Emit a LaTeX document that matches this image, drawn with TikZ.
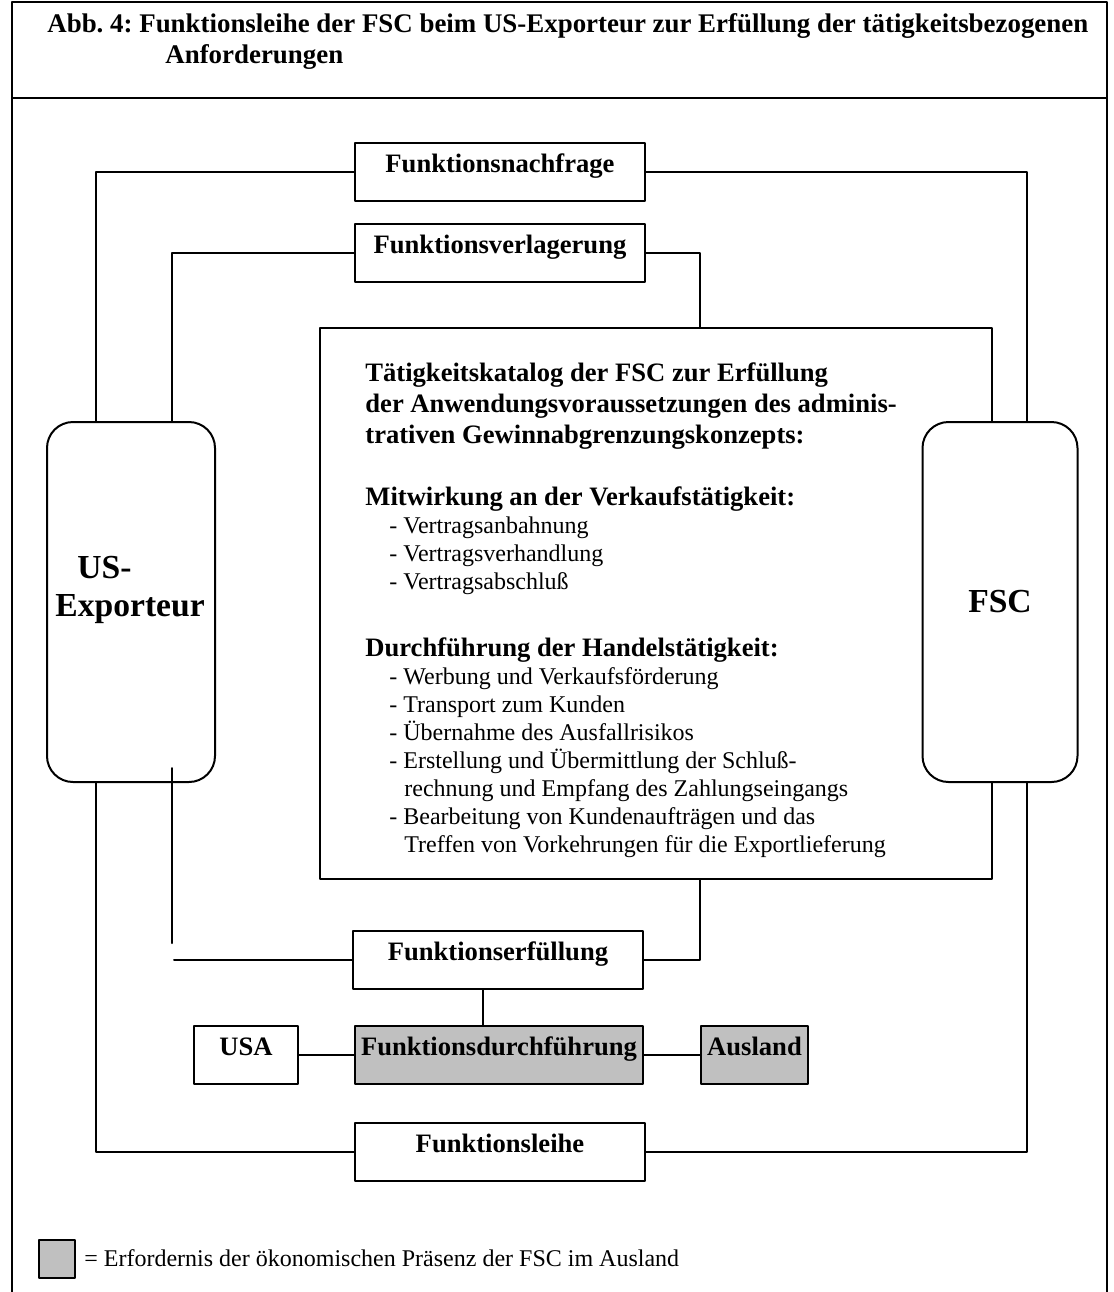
\documentclass[tikz,border=0pt]{standalone}
\usepackage{fontspec}
\setmainfont{Liberation Serif}
\usetikzlibrary{calc}
\definecolor{grau}{RGB}{192,192,192}

\begin{document}
\frenchspacing
\begin{tikzpicture}[x=0.5pt,y=-0.5pt, line join=round, line cap=round,
	fbox/.style={draw, line width=1pt, fill=white, inner xsep=0pt, inner ysep=0pt, text height=14.5pt, text depth=14.5pt, minimum width=145pt, font=\fontsize{13.3}{15}\selectfont\bfseries},
	rbox/.style={draw, line width=1pt, fill=white, rounded corners=13pt, minimum height=180pt, font=\fontsize{16.8}{19}\selectfont\bfseries},
	hd/.style={font=\fontsize{13.3}{15}\selectfont\bfseries, anchor=base west, inner sep=0pt},
	it/.style={font=\fontsize{12}{14}\selectfont, anchor=base west, inner sep=0pt},
	big/.style={font=\fontsize{16.8}{19}\selectfont\bfseries, anchor=base west, inner sep=0pt},
	ln/.style={line width=1pt}]
	\useasboundingbox (0,0) rectangle (1114,1292);
	% Rahmen und Titel
	\draw[line width=0.7pt] (12,1292)--(12,2)--(1107,2)--(1107,1292);
	\draw[line width=0.7pt] (12,98)--(1107,98);
	\node[hd, font=\fontsize{13.45}{15}\selectfont\bfseries] (titel1) at (47,32) {Abb. 4: Funktionsleihe der FSC beim US-Exporteur zur Erfüllung der tätigkeitsbezogenen};
	\node[hd, font=\fontsize{13.45}{15}\selectfont\bfseries] (titel2) at (165,63) {Anforderungen};
	% Taetigkeitskatalog
	\node[draw, line width=1pt, minimum width=336pt, minimum height=275.5pt] (kat) at (656,603.5) {};
	\foreach \yy/\txt in {381/{Tätigkeitskatalog der FSC zur Erfüllung}, 412/{der Anwendungsvoraussetzungen des adminis-}, 443/{trativen Gewinnabgrenzungskonzepts:}, 505/{Mitwirkung an der Verkaufstätigkeit:}, 656/{Durchführung der Handelstätigkeit:}}
	{\node[hd] (kh\yy) at (365,\yy) {\txt};}
	\foreach \yy/\xx/\txt in {533/389/{- Vertragsanbahnung}, 561/389/{- Vertragsverhandlung}, 589/389/{- Vertragsabschluß}, 684/389/{- Werbung und Verkaufsförderung}, 712/389/{- Transport zum Kunden}, 740/389/{- Übernahme des Ausfallrisikos}, 768/389/{- Erstellung und Übermittlung der Schluß-}, 796/404/{rechnung und Empfang des Zahlungseingangs}, 824/389/{- Bearbeitung von Kundenaufträgen und das}, 852/404/{Treffen von Vorkehrungen für die Exportlieferung}}
	{\node[it] (ki\yy) at (\xx,\yy) {\txt};}
	% Beteiligte
	\node[rbox, minimum width=84pt] (usx) at (131,602) {};
	\node[big] (ustxt1) at (77,578) {US-};
	\node[big] (ustxt2) at (55,616) {Exporteur};
	\node[rbox, minimum width=77.5pt] (fsc) at (1000,602) {FSC};
	% Funktionen
	\node[fbox] (nf) at (500,172) {Funktionsnachfrage};
	\node[fbox] (vl) at (500,253) {Funktionsverlagerung};
	\node[fbox] (fe) at (498,960) {Funktionserfüllung};
	\node[fbox, fill=grau, minimum width=144pt] (fd) at (499,1055) {Funktionsdurchführung};
	\node[fbox, minimum width=52pt] (usa) at (246,1055) {USA};
	\node[fbox, fill=grau, minimum width=53.5pt] (aus) at (754.5,1055) {Ausland};
	\node[fbox] (fl) at (500,1152) {Funktionsleihe};
	% Verbindungen
	\coordinate (xa) at (96,0); \coordinate (xb) at (172,0);
	\coordinate (xc) at (700,0); \coordinate (xd) at (1027,0);
	\draw[ln] (nf.west) -| (usx.north -| xa);
	\draw[ln] (nf.east) -| (fsc.north -| xd);
	\draw[ln] (vl.west) -| (usx.north -| xb);
	\draw[ln] (vl.east) -| (kat.north -| xc);
	\draw[ln] (usx.south -| xa) |- (fl.west);
	\draw[ln] (fsc.south -| xd) |- (fl.east);
	\draw[ln] ($(usx.south -| xb)+(0,-15)$) -- ($(fe.west -| xb)+(0,-17)$);
	\draw[ln] ($(fe.west -| xb)+(2,0)$) -- (fe.west);
	\draw[ln] (kat.south -| xc) |- (fe.east);
	\draw[ln] ($(fe.south)+(-15,0)$) -- ($(fd.north)+(-16,0)$);
	\draw[ln] (usa.east) -- (fd.west);
	\draw[ln] (fd.east) -- (aus.west);
	% Legende
	\node[draw, line width=0.8pt, fill=grau, minimum width=18pt, minimum height=19pt, inner sep=0pt] (leg) at (57,1259) {};
	\node[it] (legtxt) at (84,1266) {= Erfordernis der ökonomischen Präsenz der FSC im Ausland};
\end{tikzpicture}
\end{document}
